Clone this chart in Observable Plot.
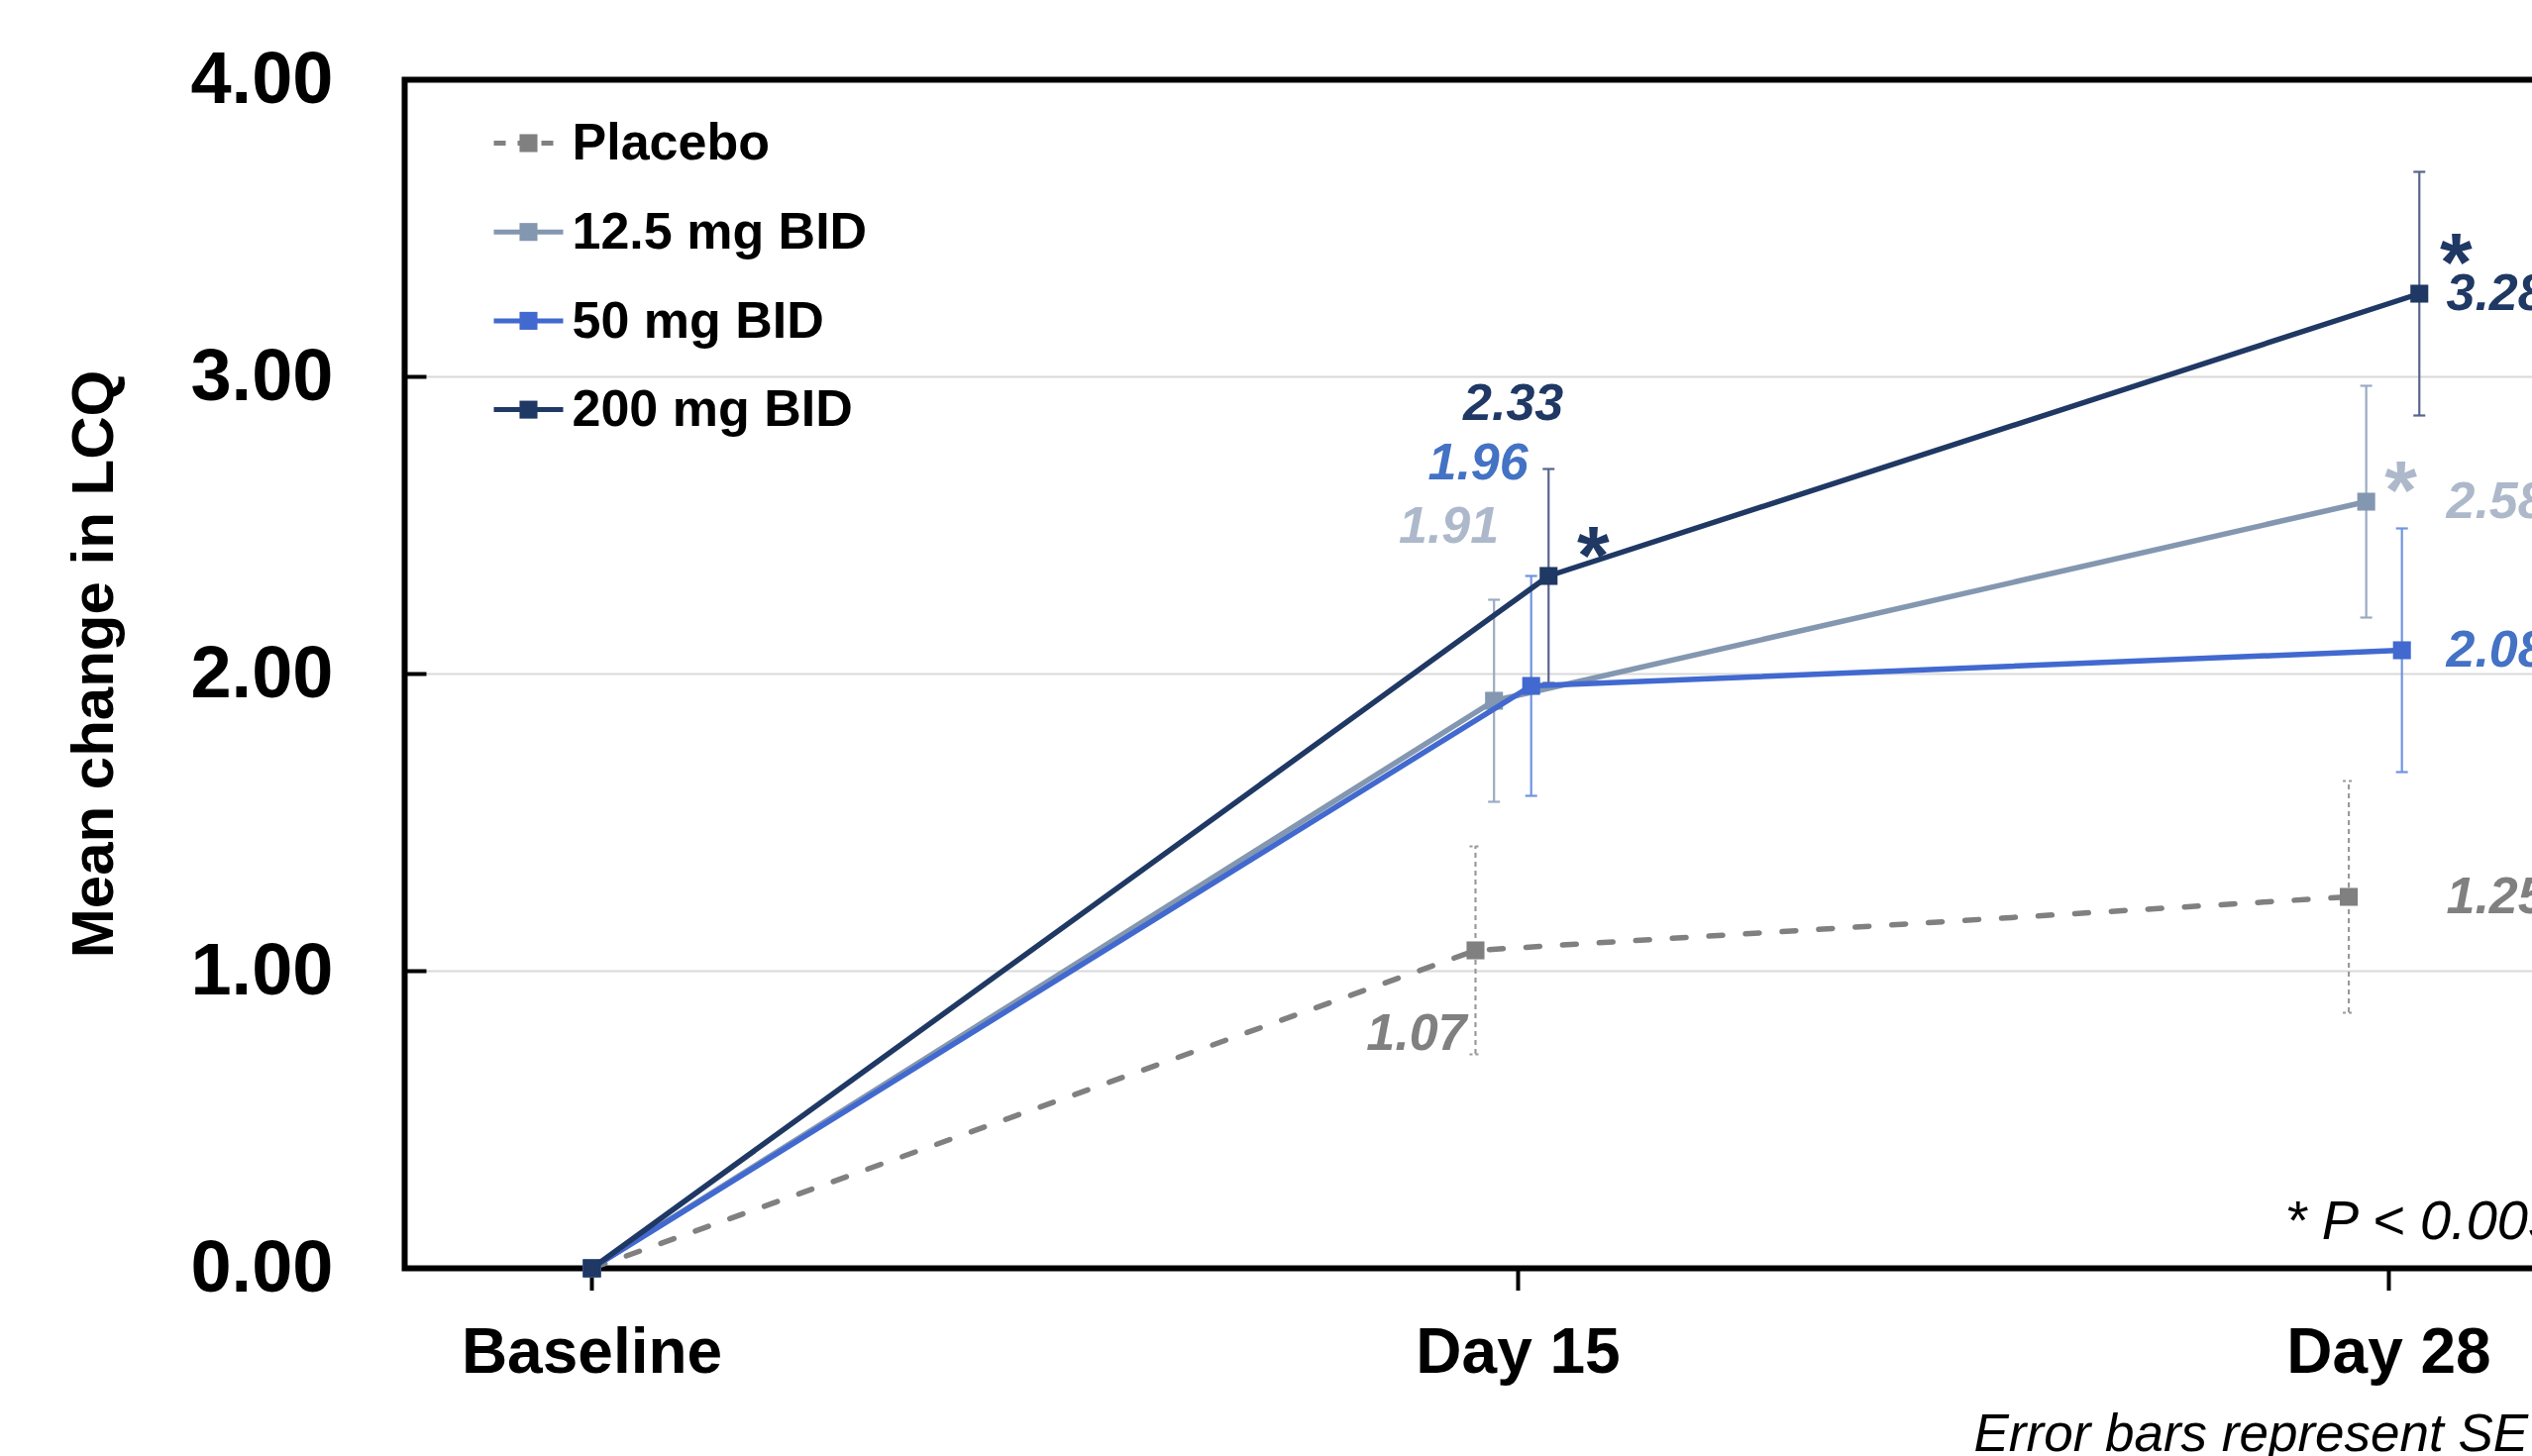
<!DOCTYPE html>
<html>
<head>
<meta charset="utf-8">
<script src="https://cdn.jsdelivr.net/npm/d3@7"></script>
<script src="https://cdn.jsdelivr.net/npm/@observablehq/plot@0.6"></script>
<style>
html, body { margin: 0; padding: 0; overflow: hidden; background: #fff; }
#chart { width: 2556px; height: 1470px; overflow: hidden; position: relative; }
#chart svg { max-width: none !important; display: block; }
</style>
</head>
<body>
<div id="chart"></div>
<script>
// ---- data ----
const visits = ["Baseline", "Day 15", "Day 28"];
const seriesNames = ["Placebo", "12.5 mg BID", "50 mg BID", "200 mg BID"];
const placeboMean = [0, 1.07, 1.25];
const placeboSE   = [0, 0.35, 0.39];
const bid12Mean   = [0, 1.91, 2.58];
const bid12SE     = [0, 0.34, 0.39];
const bid50Mean   = [0, 1.96, 2.08];
const bid50SE     = [0, 0.37, 0.41];
const bid200Mean  = [0, 2.33, 3.28];
const bid200SE    = [0, 0.36, 0.41];
const placeboSig  = [false, false, false];
const bid12Sig    = [false, false, true];
const bid50Sig    = [false, false, false];
const bid200Sig   = [false, true, true];
const yTicks = [0, 1, 2, 3, 4];
const yTickLabels = ["0.00", "1.00", "2.00", "3.00", "4.00"];
const yTitle = "Mean change in LCQ";
const pNote = "* P < 0.005";
const seNote = "Error bars represent SE";

// ---- styles ----
const FONT = "'Liberation Sans', Arial, Helvetica, sans-serif";
const styles = {
  "Placebo":     {line: "#808080", marker: "#808080", err: "#9a9a9a", errDash: "5,4", label: "#808080", dash: "14,23", jitter: -0.046, d15: {dx: -9, dy: 84}},
  "12.5 mg BID": {line: "#8497b0", marker: "#8497b0", err: "#9aabc2", errDash: null, label: "#adb9ca", dash: null, jitter: -0.026, d15: {dx: 5, dy: -176}},
  "50 mg BID":   {line: "#4169cf", marker: "#4169cf", err: "#7094e0", errDash: null, label: "#4472c4", dash: null, jitter: 0.015, d15: {dx: -3, dy: -225}},
  "200 mg BID":  {line: "#1f3864", marker: "#1f3864", err: "#56658c", errDash: null, label: "#1f3864", dash: null, jitter: 0.035, d15: {dx: 15, dy: -174}}
};
const starOffsets = {
  "200 mg BID|Day 15": {dx: 45, dy: -18},
  "200 mg BID|Day 28": {dx: 37, dy: -29},
  "12.5 mg BID|Day 28": {dx: 35, dy: -9}
};

const seriesData = [
  {name: seriesNames[0], mean: placeboMean, se: placeboSE, sig: placeboSig},
  {name: seriesNames[1], mean: bid12Mean, se: bid12SE, sig: bid12Sig},
  {name: seriesNames[2], mean: bid50Mean, se: bid50SE, sig: bid50Sig},
  {name: seriesNames[3], mean: bid200Mean, se: bid200SE, sig: bid200Sig}
];
const rows = seriesData.flatMap(s => visits.map((v, vi) => ({
  series: s.name, visit: v, vi, mean: s.mean[vi], se: s.se[vi], sig: s.sig[vi]
})));

// custom symbols
const hline = (half) => ({draw(ctx) { ctx.moveTo(-half, 0); ctx.lineTo(half, 0); }});
const rightTick = (len) => ({draw(ctx) { ctx.moveTo(0, 0); ctx.lineTo(len, 0); }});

const errMarks = [], lineMarks = [], labelMarks = [], legendMarks = [];

seriesNames.forEach((name, si) => {
  const st = styles[name];
  const pts = rows.filter(r => r.series === name);
  const post = pts.filter(r => r.vi > 0);
  const xOf = r => r.vi + (r.vi > 0 ? st.jitter : 0);

  // error bars
  errMarks.push(Plot.ruleX(post, {x: xOf, y1: r => r.mean - r.se, y2: r => r.mean + r.se,
    stroke: st.err, strokeWidth: 2.2, strokeDasharray: st.errDash}));
  errMarks.push(Plot.dot(post, {x: xOf, y: r => r.mean + r.se, symbol: hline(6), r: 4,
    stroke: st.err, strokeWidth: 2.2, fill: "none", strokeDasharray: st.errDash ? "3,3" : null}));
  errMarks.push(Plot.dot(post, {x: xOf, y: r => r.mean - r.se, symbol: hline(6), r: 4,
    stroke: st.err, strokeWidth: 2.2, fill: "none", strokeDasharray: st.errDash ? "3,3" : null}));

  // lines and markers
  lineMarks.push(Plot.line(pts, {x: xOf, y: "mean", stroke: st.line, strokeWidth: 5.5,
    strokeDasharray: st.dash, strokeLinecap: st.dash ? "round" : "butt"}));
  lineMarks.push(Plot.dot(pts, {x: xOf, y: "mean", symbol: "square", r: 10.2, fill: st.marker, stroke: "none"}));

  // Day 15 value label
  labelMarks.push(Plot.text(pts.filter(r => r.vi === 1), {x: xOf, y: "mean", text: r => r.mean.toFixed(2),
    textAnchor: "end", lineAnchor: "middle", dx: st.d15.dx, dy: st.d15.dy,
    fill: st.label, fontSize: 52, fontWeight: "bold", fontStyle: "italic"}));
  // Day 28 value label
  labelMarks.push(Plot.text(pts.filter(r => r.vi === 2), {x: "vi", y: "mean", text: r => r.mean.toFixed(2),
    textAnchor: "start", lineAnchor: "middle", dx: 58, dy: 0,
    fill: st.label, fontSize: 52, fontWeight: "bold", fontStyle: "italic"}));
  // significance stars
  pts.filter(r => r.sig).forEach(r => {
    const off = starOffsets[`${name}|${r.visit}`] || {dx: 40, dy: -20};
    labelMarks.push(Plot.text([r], {x: xOf, y: "mean", text: () => "*",
      textAnchor: "middle", lineAnchor: "middle", dx: off.dx, dy: off.dy,
      fill: st.label, fontSize: 84, fontWeight: "bold"}));
  });

  // legend
  const rowDy = 64 + si * 89.7;
  legendMarks.push(Plot.dot([name], {frameAnchor: "top-left", dx: 125, dy: rowDy, symbol: hline(35), r: 5,
    stroke: st.line, strokeWidth: 5, fill: "none", strokeDasharray: st.dash ? "12,12" : null}));
  legendMarks.push(Plot.dot([name], {frameAnchor: "top-left", dx: 125, dy: rowDy, symbol: "square", r: 10.2,
    fill: st.marker, stroke: "none"}));
  legendMarks.push(Plot.text([name], {frameAnchor: "top-left", dx: 169, dy: rowDy, text: d => d,
    textAnchor: "start", lineAnchor: "middle", fontSize: 52, fontWeight: "bold", fill: "#000"}));
});

const plot = Plot.plot({
  width: 2750,
  height: 1470,
  marginLeft: 408,
  marginRight: 0,
  marginTop: 80,
  marginBottom: 190,
  style: {fontFamily: FONT, background: "#fff", color: "#000"},
  x: {type: "linear", domain: [0, 1, 2], range: [597, 1532, 2411]},
  y: {type: "linear", domain: [0, 4]},
  marks: [
    Plot.gridY(yTicks, {stroke: "#d9d9d9", strokeOpacity: 1, strokeWidth: 2}),
    Plot.frame({stroke: "#000", strokeWidth: 6}),
    Plot.dot(yTicks, {y: d => d, frameAnchor: "left", symbol: rightTick(22), r: 5, stroke: "#000", strokeWidth: 4, fill: "none"}),
    Plot.axisY({ticks: yTicks, tickFormat: d => yTickLabels[yTicks.indexOf(d)], tickSize: 0, tickPadding: 72,
      fontSize: 74, fontWeight: "bold", fill: "#000", label: null}),
    Plot.axisX({ticks: visits.map((v, i) => i), tickFormat: d => visits[d], tickSize: 23, tickPadding: 37,
      strokeWidth: 4, stroke: "#000", fontSize: 64, fontWeight: "bold", fill: "#000", label: null}),
    ...errMarks,
    ...lineMarks,
    ...labelMarks,
    ...legendMarks,
    Plot.text([yTitle], {frameAnchor: "left", dx: -314, dy: -10, rotate: -90, text: d => d,
      lineAnchor: "middle", textAnchor: "middle", fontSize: 60, fontWeight: "bold", fill: "#000"}),
    Plot.text([pNote], {frameAnchor: "bottom-left", dx: 1898, dy: -47, text: d => d,
      textAnchor: "start", lineAnchor: "middle", fontSize: 56, fontStyle: "italic", fill: "#000"}),
    Plot.text([seNote], {frameAnchor: "bottom-left", dx: 1584, dy: 168, text: d => d,
      textAnchor: "start", lineAnchor: "middle", fontSize: 53, fontStyle: "italic", fill: "#000"})
  ]
});
plot.style.maxWidth = "none";
document.getElementById("chart").appendChild(plot);
</script>
</body>
</html>
